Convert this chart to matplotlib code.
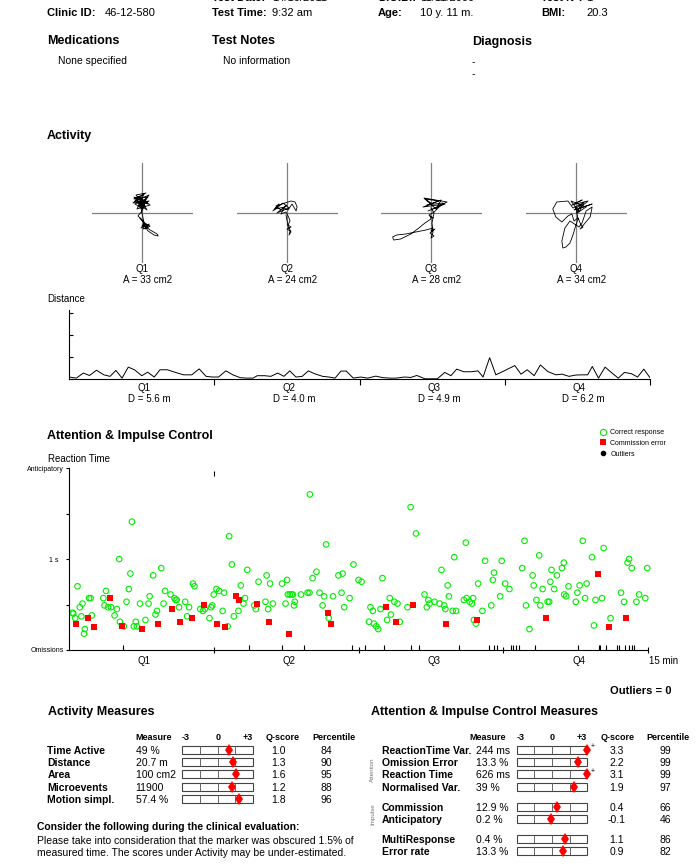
"""Recreate the QbTest-style patient report page (activity + attention panels)."""

import matplotlib
matplotlib.use("Agg")
import matplotlib.pyplot as plt
from matplotlib.lines import Line2D
from matplotlib.patches import Rectangle

plt.rcParams["font.family"] = ["Liberation Sans", "DejaVu Sans"]

W, H = 700, 867

# ---- header -------------------------------------------------------------
HEADER_TOP = [("Test Date:", "14/10/2011"), ("D.O.B.:", "11/11/2000"), ("Test N°:", "1")]
HEADER_MAIN = [("Clinic ID:", "46-12-580"), ("Test Time:", "9:32 am"),
               ("Age:", "10 y. 11 m."), ("BMI:", "20.3")]
MEDICATIONS = "None specified"
TEST_NOTES = "No information"
DIAGNOSIS = ["-", "-"]

# ---- activity -----------------------------------------------------------
QUARTERS = ["Q1", "Q2", "Q3", "Q4"]
AREAS = [33, 24, 28, 34]          # cm2
DISTANCES = [5.6, 4.0, 4.9, 6.2]  # m

# rough head-marker traces per quarter (screen units around the centre)
TRACE_X = [
    [0, -6, 4, -8, 6, -3, 7, -9, 2, -5, 8, -2, 5, -7, 3, -4, 6, -6, 2, -8, 5, -3, 7, -5,
     1, -7, 4, 0, -4, 1, -2, 2, 0, 3, -1, 4, 2, 6, 1, 3, 5, 8, 2, 6, 3, 7, 4, 8, 15, 16,
     12, 6, 4, 2, 0, -1],
    [-2, -12, -8, -14, -4, 2, -10, 0, -6, -11, 4, 8, 10, 9, 5, 1, -3, -6, -1, 2, 3, 1,
     4, 0, 3, 2, 4, 1, -1],
    [0, -6, 8, -8, 14, -3, 16, -7, 5, 10, -4, 12, 3, -2, 2, -1, 0, -6, -12, -20, -30,
     -37, -38, -34, -25, -15, -5, 2, 0, 4, -1, 3, 0, 2, 1, 3, 0],
    [0, 6, -4, 12, 2, 16, -2, 8, 3, -5, 10, 1, 5, -3, -8, -19, -23, -20, -14, -8, -4,
     -2, 2, 5, 7, 4, 14, 16, 10, 6, 3, 0, -6, -11, -14, -13, -10, -6, -3, -1, 2, 0],
]
TRACE_Y = [
    [10, 18, 20, 14, 16, 6, 12, 10, 19, 4, 8, 15, 3, 12, 7, 17, 9, 13, 5, 16, 11, 7, 18,
     13, 4, 9, 14, 2, -3, -8, -5, -10, -13, -11, -15, -12, -9, -14, -16, -12, -15, -13,
     -10, -12, -16, -11, -14, -17, -21, -23, -22, -18, -15, -10, 0, 5],
    [6, 4, 9, 2, 10, 5, 0, 8, 3, 7, 12, 11, 6, 2, 9, 3, 5, -1, 1, -5, -8, -12, -14,
     -16, -18, -22, -19, -13, -2],
    [10, 14, 12, 6, 9, 2, 11, 15, 4, 13, 8, 10, 1, -2, -5, -3, -6, -10, -15, -21, -26,
     -27, -24, -22, -21, -19, -17, -15, -18, -16, -20, -23, -25, -19, -10, 0, 5],
    [10, 13, 8, 12, 4, 9, 3, 11, 1, 12, 6, 0, 9, 5, 12, 11, 4, -4, -9, -3, -1, -8, -5,
     -12, -14, -16, -4, 6, 2, -10, -14, -12, -8, -15, -28, -35, -34, -30, -22, -15,
     -6, 5],
]

# distance per sample over the 15 min test (tick units)
DIST_T = [0.0, 0.19, 0.37, 0.53, 0.71, 0.90, 1.06, 1.21, 1.37, 1.53, 1.69, 1.88, 2.03,
          2.20, 2.35, 2.54, 2.75, 2.96, 3.17, 3.36, 3.54, 3.70, 3.86, 4.05, 4.23, 4.42,
          4.59, 4.75, 4.86, 5.05, 5.21, 5.39, 5.55, 5.70, 5.86, 6.02, 6.18, 6.34, 6.55,
          6.71, 6.87, 7.02, 7.16, 7.34, 7.53, 7.71, 7.92, 8.11, 8.29, 8.45, 8.66, 8.82,
          8.98, 9.19, 9.35, 9.51, 9.70, 9.86, 10.01, 10.19, 10.38, 10.56, 10.69, 10.86,
          11.02, 11.20, 11.36, 11.51, 11.67, 11.83, 12.01, 12.17, 12.36, 12.57, 12.73,
          12.91, 13.08, 13.26, 13.39, 13.51, 13.67, 13.84, 14.00, 14.18, 14.34, 14.52,
          14.68, 14.84, 15.0]
DIST_V = [0.09, 0.04, 0.27, 0.16, 0.40, 0.19, 0.12, 0.39, 0.04, 0.54, 0.42, 0.15, 0.31,
          0.09, 0.42, 0.42, 0.30, 0.19, 0.19, 0.46, 0.12, 0.09, 0.09, 0.37, 0.19, 0.06,
          0.04, 0.04, 0.15, 0.15, 0.12, 0.27, 0.12, 0.37, 0.09, 0.12, 0.37, 0.24, 0.12,
          0.09, 0.04, 0.36, 0.36, 0.04, 0.09, 0.04, 0.13, 0.06, 0.04, 0.04, 0.09, 0.07,
          0.16, 0.01, 0.01, 0.01, 0.30, 0.15, 0.45, 0.33, 0.33, 0.37, 0.09, 0.97, 0.19,
          0.34, 0.48, 0.61, 0.22, 0.42, 0.15, 0.64, 0.34, 0.19, 0.22, 0.12, 0.18, 0.19,
          0.19, 0.57, 0.04, 0.54, 0.30, 0.04, 0.30, 0.24, 0.09, 0.45, 0.06]

# ---- reaction times (min, s) -------------------------------------------
CORRECT_T = [0.09, 0.11, 0.16, 0.22, 0.28, 0.32, 0.35, 0.39, 0.41, 0.52, 0.56, 0.59, 0.89,
             0.92, 0.96, 1.01, 1.09, 1.18, 1.24, 1.30, 1.32, 1.42, 1.49, 1.55, 1.59, 1.63,
             1.68, 1.73, 1.76, 1.84, 1.98, 2.06, 2.09, 2.18, 2.24, 2.28, 2.39, 2.45, 2.49,
             2.63, 2.73, 2.76, 2.79, 2.85, 3.01, 3.06, 3.11, 3.21, 3.25, 3.40, 3.47, 3.52,
             3.64, 3.68, 3.71, 3.75, 3.82, 3.89, 3.98, 4.02, 4.11, 4.15, 4.22, 4.27, 4.39,
             4.45, 4.52, 4.56, 4.62, 4.80, 4.84, 4.91, 5.09, 5.12, 5.16, 5.21, 5.28, 5.52,
             5.61, 5.65, 5.67, 5.72, 5.77, 5.80, 5.83, 5.85, 6.01, 6.18, 6.23, 6.24, 6.31,
             6.41, 6.49, 6.57, 6.61, 6.66, 6.73, 6.84, 6.98, 7.06, 7.09, 7.13, 7.27, 7.37,
             7.50, 7.58, 7.77, 7.81, 7.87, 7.90, 7.96, 8.01, 8.07, 8.12, 8.24, 8.31, 8.34,
             8.43, 8.51, 8.57, 8.77, 8.85, 8.99, 9.21, 9.27, 9.31, 9.34, 9.47, 9.60, 9.65,
             9.72, 9.75, 9.81, 9.84, 9.94, 9.98, 10.03, 10.23, 10.28, 10.30, 10.38, 10.44,
             10.47, 10.49, 10.54, 10.60, 10.71, 10.78, 10.94, 10.98, 11.01, 11.17, 11.21,
             11.30, 11.41, 11.74, 11.80, 11.84, 11.93, 12.01, 12.04, 12.11, 12.18, 12.21,
             12.27, 12.40, 12.44, 12.47, 12.50, 12.57, 12.64, 12.77, 12.82, 12.83, 12.88,
             12.94, 13.13, 13.17, 13.23, 13.31, 13.37, 13.41, 13.55, 13.60, 13.64, 13.81,
             13.85, 14.03, 14.30, 14.38, 14.47, 14.51, 14.58, 14.70, 14.77, 14.93, 14.98]
CORRECT_RT = [0.41, 0.40, 0.35, 0.70, 0.47, 0.37, 0.51, 0.18, 0.23, 0.57, 0.57, 0.38, 0.57,
              0.49, 0.65, 0.47, 0.47, 0.38, 0.45, 1.00, 0.31, 0.26, 0.53, 0.67, 0.84, 1.41,
              0.26, 0.31, 0.26, 0.51, 0.33, 0.51, 0.59, 0.82, 0.39, 0.43, 0.90, 0.51, 0.65,
              0.61, 0.57, 0.55, 0.55, 0.47, 0.53, 0.37, 0.47, 0.73, 0.70, 0.45, 0.43, 0.45,
              0.35, 0.47, 0.49, 0.61, 0.67, 0.65, 0.43, 0.63, 0.26, 1.25, 0.94, 0.37, 0.43,
              0.71, 0.51, 0.57, 0.88, 0.49, 0.45, 0.75, 0.53, 0.82, 0.45, 0.73, 0.51, 0.73,
              0.51, 0.77, 0.61, 0.61, 0.61, 0.61, 0.49, 0.53, 0.61, 0.63, 0.63, 1.71, 0.79,
              0.86, 0.63, 0.49, 0.59, 1.16, 0.35, 0.59, 0.82, 0.63, 0.84, 0.47, 0.57, 0.94,
              0.77, 0.75, 0.31, 0.47, 0.43, 0.29, 0.26, 0.23, 0.45, 0.79, 0.33, 0.57, 0.39,
              0.53, 0.51, 0.31, 0.47, 1.57, 1.28, 0.61, 0.47, 0.55, 0.51, 0.53, 0.51, 0.88,
              0.49, 0.45, 0.71, 0.59, 0.43, 1.02, 0.43, 0.55, 1.18, 0.57, 0.53, 0.51,
              0.57, 0.33, 0.29, 0.73, 0.43, 0.98, 0.49, 0.77, 0.85, 0.59, 0.98,
              0.73, 0.67, 0.90, 1.20, 0.49, 0.23, 0.82, 0.71, 0.55, 1.04, 0.49,
              0.67, 0.53, 0.53, 0.75, 0.88, 0.67, 0.82, 0.90, 0.96, 0.61, 0.59,
              0.70, 0.53, 0.63, 0.71, 1.20, 0.57, 0.73, 1.02, 0.27, 0.55, 0.57,
              1.12, 0.35, 0.63, 0.53, 0.96, 1.00, 0.90, 0.53, 0.61, 0.57, 0.90]
COMMISSION_T = [0.18, 0.48, 0.65, 1.05, 1.38, 1.88, 2.31, 2.68, 2.88, 3.18, 3.51, 3.84,
                4.05, 4.32, 4.41, 4.88, 5.17, 5.70, 6.71, 6.78, 8.20, 8.46, 8.90, 9.77,
                10.57, 12.37, 13.70, 13.99, 14.43]
COMMISSION_RT = [0.29, 0.35, 0.25, 0.57, 0.26, 0.23, 0.29, 0.45, 0.31, 0.35, 0.49, 0.29,
                 0.25, 0.59, 0.55, 0.51, 0.31, 0.18, 0.41, 0.29, 0.47, 0.31, 0.49, 0.29,
                 0.33, 0.35, 0.84, 0.25, 0.35]
OMISSION_T = [1.40, 4.66, 5.52, 6.09, 7.33, 7.66, 8.16, 8.86, 9.07, 10.10, 10.89, 11.02,
              11.09, 11.44, 11.49, 11.57, 11.66, 12.07, 13.19, 13.73, 13.76, 13.90, 14.20,
              14.26, 14.40, 14.52, 14.58, 14.64]
ANTICIPATORY_T = [3.76]
OUTLIERS = 0

# ---- measures ------------------------------------------------------------
ACT_NAMES = ["Time Active", "Distance", "Area", "Microevents", "Motion simpl."]
ACT_MEASURES = ["49 %", "20.7 m", "100 cm2", "11900", "57.4 %"]
ACT_QSCORES = [1.0, 1.3, 1.6, 1.2, 1.8]
ACT_PERCENTILES = [84, 90, 95, 88, 96]

AIC_NAMES = ["ReactionTime Var.", "Omission Error", "Reaction Time", "Normalised Var.",
             "Commission", "Anticipatory", "MultiResponse", "Error rate"]
AIC_MEASURES = ["244 ms", "13.3 %", "626 ms", "39 %", "12.9 %", "0.2 %", "0.4 %", "13.3 %"]
AIC_QSCORES = [3.3, 2.2, 3.1, 1.9, 0.4, -0.1, 1.1, 0.9]
AIC_PERCENTILES = [99, 99, 99, 97, 66, 46, 86, 82]

NOTE_TITLE = "Consider the following during the clinical evaluation:"
NOTE_LINES = ["Please take into consideration that the marker was obscured 1.5% of",
              "measured time. The scores under Activity may be under-estimated."]

GREEN = "#00ee00"
RED = "#ff0000"
GRID = "#808080"


def px_axes(fig, x0, y0, x1, y1):
    """Add axes given a pixel box (origin top-left)."""
    return fig.add_axes([x0 / W, 1 - y1 / H, (x1 - x0) / W, (y1 - y0) / H])


def score_bar(fig, x0, x1, yc, q):
    ax = px_axes(fig, x0, yc - 4, x1, yc + 4)
    ax.set_xlim(-3, 3)
    ax.set_ylim(0, 1)
    ax.axis("off")
    ax.add_patch(Rectangle((-3, 0), 6, 1, fill=False, ec="#444444", lw=0.8, clip_on=False))
    ax.vlines([-1.5, 0, 1.5], 0, 1, color="#666666", lw=0.7)
    ax.plot([min(q, 3)], [0.5], marker="d", ms=6.5, color=RED, mew=0, clip_on=False)
    if q > 3:
        ax.text(3.5, 0.9, "+", fontsize=5, ha="center", va="center")


def main():
    fig = plt.figure(figsize=(W / 100, H / 100), dpi=100)
    page = fig.add_axes([0, 0, 1, 1])
    page.set_xlim(0, W)
    page.set_ylim(H, 0)
    page.axis("off")

    def txt(x, y, s, size=7.5, bold=False, **kw):
        kw.setdefault("va", "center")
        page.text(x, y, s, fontsize=size, fontweight="bold" if bold else "normal", **kw)

    # header (top row is cut by the page edge, as on the scanned report)
    label_x = [47, 212, 378, 541]
    value_x = [105, 272, 420, 586]
    for (lab, val), lx, vx in zip(HEADER_TOP, label_x[1:], value_x[1:]):
        txt(lx, -2, lab, 8, True)
        txt(vx, -2, val, 8)
    for (lab, val), lx, vx in zip(HEADER_MAIN, label_x, value_x):
        txt(lx, 12.5, lab, 8, True)
        txt(vx, 12.5, val, 8)

    txt(47, 41.5, "Medications", 9, True)
    txt(212, 41.5, "Test Notes", 9, True)
    txt(472, 42, "Diagnosis", 9, True)
    txt(58, 61.5, MEDICATIONS, 7.5)
    txt(223, 61.5, TEST_NOTES, 7.5)
    for i, d in enumerate(DIAGNOSIS):
        txt(472, 62 + 12.5 * i, d, 7.5)

    # activity quadrants
    txt(47, 136, "Activity", 9, True)
    centers = [142, 287, 431, 576]
    for i, cx in enumerate(centers):
        ax = px_axes(fig, cx - 50.5, 163, cx + 50.5, 263)
        ax.set_xlim(-50, 50)
        ax.set_ylim(-50, 50)
        ax.axis("off")
        ax.axhline(0, color=GRID, lw=0.9)
        ax.axvline(0, color=GRID, lw=0.9)
        ax.plot(TRACE_X[i], TRACE_Y[i], color="black", lw=0.6)
        txt(cx, 269.5, QUARTERS[i], 7, ha="center")
        txt(cx + 6, 280, f"A = {AREAS[i]} cm2", 7, ha="center")

    # distance trace
    txt(47, 298.5, "Distance", 7)
    axd = px_axes(fig, 69, 310, 650, 379)
    axd.plot(DIST_T, DIST_V, color="black", lw=0.7)
    axd.set_xlim(0, 15)
    axd.set_ylim(0, 3.14)
    for s in ("top", "right"):
        axd.spines[s].set_visible(False)
    for s in ("left", "bottom"):
        axd.spines[s].set_linewidth(0.8)
    axd.set_yticks([0, 1, 2, 3])
    axd.set_yticklabels([])
    axd.tick_params(axis="y", direction="in", length=3, width=0.8)
    axd.set_xticks([3.75, 7.5, 11.25, 15])
    axd.set_xticklabels([])
    axd.tick_params(axis="x", direction="out", length=4, width=0.8)
    for i in range(4):
        qx = 69 + (i * 3.75 + 1.875) * 38.6
        txt(qx + 3, 388, QUARTERS[i], 7, ha="center")
        txt(qx + 8, 398.5, f"D = {DISTANCES[i]:.1f} m", 7, ha="center")

    # attention & impulse control
    txt(47, 436, "Attention & Impulse Control", 9, True)
    txt(48, 458.5, "Reaction Time", 7)
    axr = px_axes(fig, 69, 468, 648, 650)
    axr.scatter(CORRECT_T, CORRECT_RT, s=16, facecolors="none", edgecolors=GREEN,
                linewidths=0.8, clip_on=False, label="Correct response")
    axr.scatter(COMMISSION_T, COMMISSION_RT, s=13, marker="s", color=RED, lw=0,
                clip_on=False, label="Commission error")
    axr.vlines(OMISSION_T, 0, 0.05, color="black", lw=0.8)
    axr.vlines(ANTICIPATORY_T, 1.915, 1.965, color="black", lw=0.8)
    axr.set_xlim(0, 15)
    axr.set_ylim(0, 2)
    for s in ("top", "right"):
        axr.spines[s].set_visible(False)
    for s in ("left", "bottom"):
        axr.spines[s].set_linewidth(0.8)
    axr.set_yticks([0, 0.5, 1, 1.5, 2])
    axr.set_yticklabels(["Omissions", "", "1 s   ", "", "Anticipatory"], fontsize=5)
    axr.tick_params(axis="y", direction="out", length=2.5, width=0.8, pad=1)
    axr.set_xticks([3.75, 7.5, 11.25, 15])
    axr.set_xticklabels([])
    axr.tick_params(axis="x", direction="inout", length=5, width=0.8)
    for i in range(4):
        qx = 69 + (i * 3.75 + 1.875) * 38.6
        txt(qx + 3, 661, QUARTERS[i], 7, ha="center")
    txt(649, 661, "15 min", 7)

    handles = [
        Line2D([], [], ls="none", marker="o", ms=4.5, mfc="none", mec=GREEN, mew=0.8),
        Line2D([], [], ls="none", marker="s", ms=4, mfc=RED, mec=RED, mew=0),
        Line2D([], [], ls="none", marker="o", ms=3, mfc="black", mec="black"),
    ]
    fig.legend(handles, ["Correct response", "Commission error", "Outliers"],
               loc="upper left", bbox_to_anchor=(600 / W, 1 - 429 / H), frameon=False,
               fontsize=5, handlelength=1, handletextpad=0.5, labelspacing=0.55,
               borderpad=0, borderaxespad=0)

    txt(672, 691, f"Outliers = {OUTLIERS}", 8, True, ha="right")

    # activity measures table
    txt(47.5, 712.5, "Activity Measures", 9, True)
    hy = 737.7
    txt(135.7, hy, "Measure", 6.5, True)
    txt(181.7, hy, "-3", 6.5, True)
    txt(217.7, hy, "0", 6.5, True, ha="center")
    txt(252.7, hy, "+3", 6.5, True, ha="right")
    txt(283, hy, "Q-score", 6.5, True, ha="center")
    txt(334, hy, "Percentile", 6.5, True, ha="center")
    act_rows = [750.7, 763, 775.3, 787.7, 800]
    for y, name, meas, q, pc in zip(act_rows, ACT_NAMES, ACT_MEASURES, ACT_QSCORES,
                                    ACT_PERCENTILES):
        txt(47.3, y, name, 7.5, True)
        txt(135.7, y, meas, 7.5)
        score_bar(fig, 182.3, 252.7, y - 1, q)
        txt(278.3, y, f"{q:.1f}", 7.5, ha="center")
        txt(326, y, f"{pc}", 7.5, ha="center")

    txt(36.7, 827.3, NOTE_TITLE, 7.5, True)
    for i, line in enumerate(NOTE_LINES):
        txt(36.7, 841 + 11.5 * i, line, 7.5)

    # attention & impulse control measures table
    txt(370.7, 712.5, "Attention & Impulse Control Measures", 9, True)
    txt(469.7, hy, "Measure", 6.5, True)
    txt(516.7, hy, "-3", 6.5, True)
    txt(552.3, hy, "0", 6.5, True, ha="center")
    txt(587.3, hy, "+3", 6.5, True, ha="right")
    txt(617.5, hy, "Q-score", 6.5, True, ha="center")
    txt(668, hy, "Percentile", 6.5, True, ha="center")
    aic_rows = [750.7, 763.3, 775.3, 787.7, 808.3, 819.7, 839.7, 851.7]
    for y, name, meas, q, pc in zip(aic_rows, AIC_NAMES, AIC_MEASURES, AIC_QSCORES,
                                    AIC_PERCENTILES):
        txt(381.7, y, name, 7.5, True)
        txt(476, y, meas, 7.5)
        score_bar(fig, 516.7, 587.3, y - 1, q)
        txt(616.7, y, f"{q:.1f}", 7.5, ha="center")
        txt(665, y, f"{pc}", 7.5, ha="center")
    txt(372.7, 770, "Attention", 4.5, rotation=90, ha="center", color="#777777")
    txt(372.7, 814, "Impulse", 4.5, rotation=90, ha="center", color="#777777")

    fig.savefig("out.png", dpi=100)


if __name__ == "__main__":
    main()
